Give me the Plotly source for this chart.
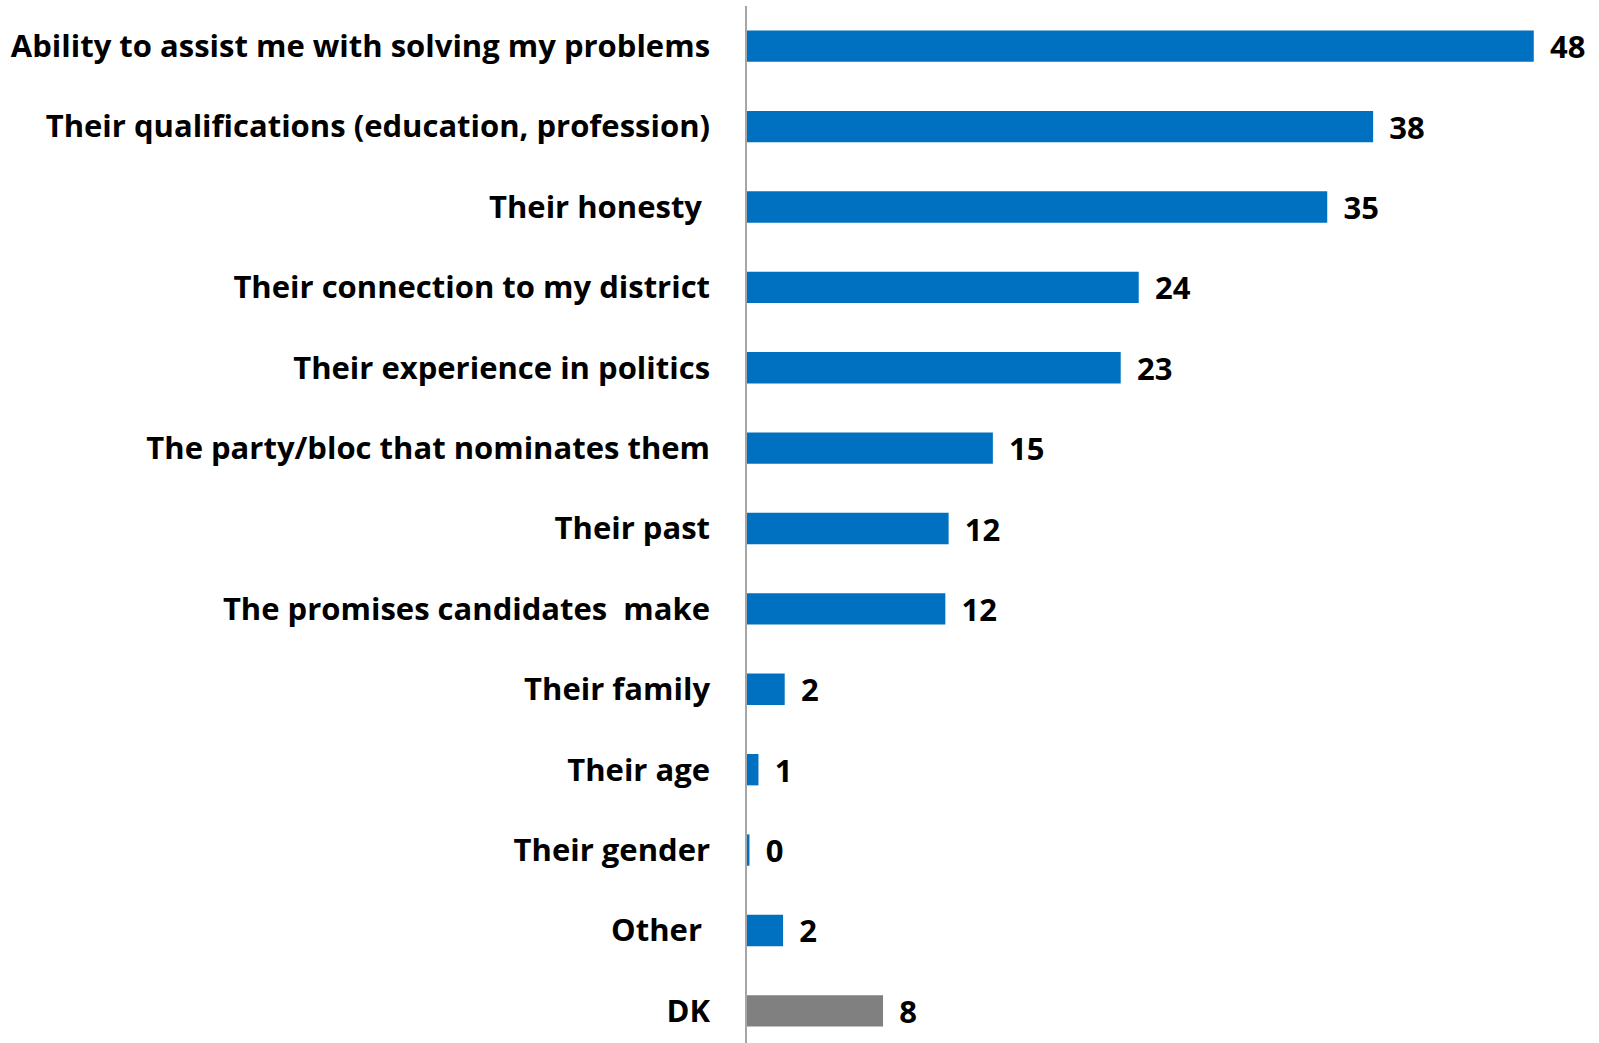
import plotly.graph_objects as go

categories = [
    "Ability to assist me with solving my problems",
    "Their qualifications (education, profession)",
    "Their honesty\u00a0",
    "Their connection to my district",
    "Their experience in politics",
    "The party/bloc that nominates them",
    "Their past",
    "The promises candidates\u00a0 make",
    "Their family",
    "Their age",
    "Their gender",
    "Other\u00a0",
    "DK",
]
values = [48, 38.2, 35.4, 23.9, 22.8, 15.0, 12.3, 12.1, 2.3, 0.7, 0.15, 2.2, 8.3]
labels = ["48", "38", "35", "24", "23", "15", "12", "12", "2", "1", "0", "2", "8"]
bar_colors = ["#0070C0"] * 12 + ["#808080"]

FONT = "Open Sans"
SIZE = 31

fig = go.Figure(
    go.Bar(
        y=categories,
        x=values,
        orientation="h",
        marker=dict(color=bar_colors, line=dict(width=0)),
        text=["\u00a0\u2009" + s for s in labels],
        textposition="outside",
        constraintext="none",
        textfont=dict(family=FONT, size=SIZE, color="black", weight="bold"),
        cliponaxis=False,
        width=0.39,
    )
)

fig.update_layout(
    width=1599,
    height=1043,
    margin=dict(l=747, r=10, t=5.5, b=0),
    paper_bgcolor="white",
    plot_bgcolor="white",
    showlegend=False,
    font=dict(family=FONT, size=SIZE, color="black", weight="bold"),
)
fig.update_xaxes(range=[0, 51.37], visible=False, showgrid=False, zeroline=False)
fig.update_yaxes(
    type="category",
    range=[12.4, -0.5],
    showline=True,
    linecolor="#A6A6A6",
    linewidth=1.5,
    ticks="",
    showgrid=False,
    zeroline=False,
    ticklabelstandoff=29,
    tickfont=dict(family=FONT, size=SIZE, color="black", weight="bold"),
)

fig.write_html(
    "out.html",
    config={"displayModeBar": False},
    post_script="document.body.style.margin='0';document.body.style.overflow='hidden';",
)
